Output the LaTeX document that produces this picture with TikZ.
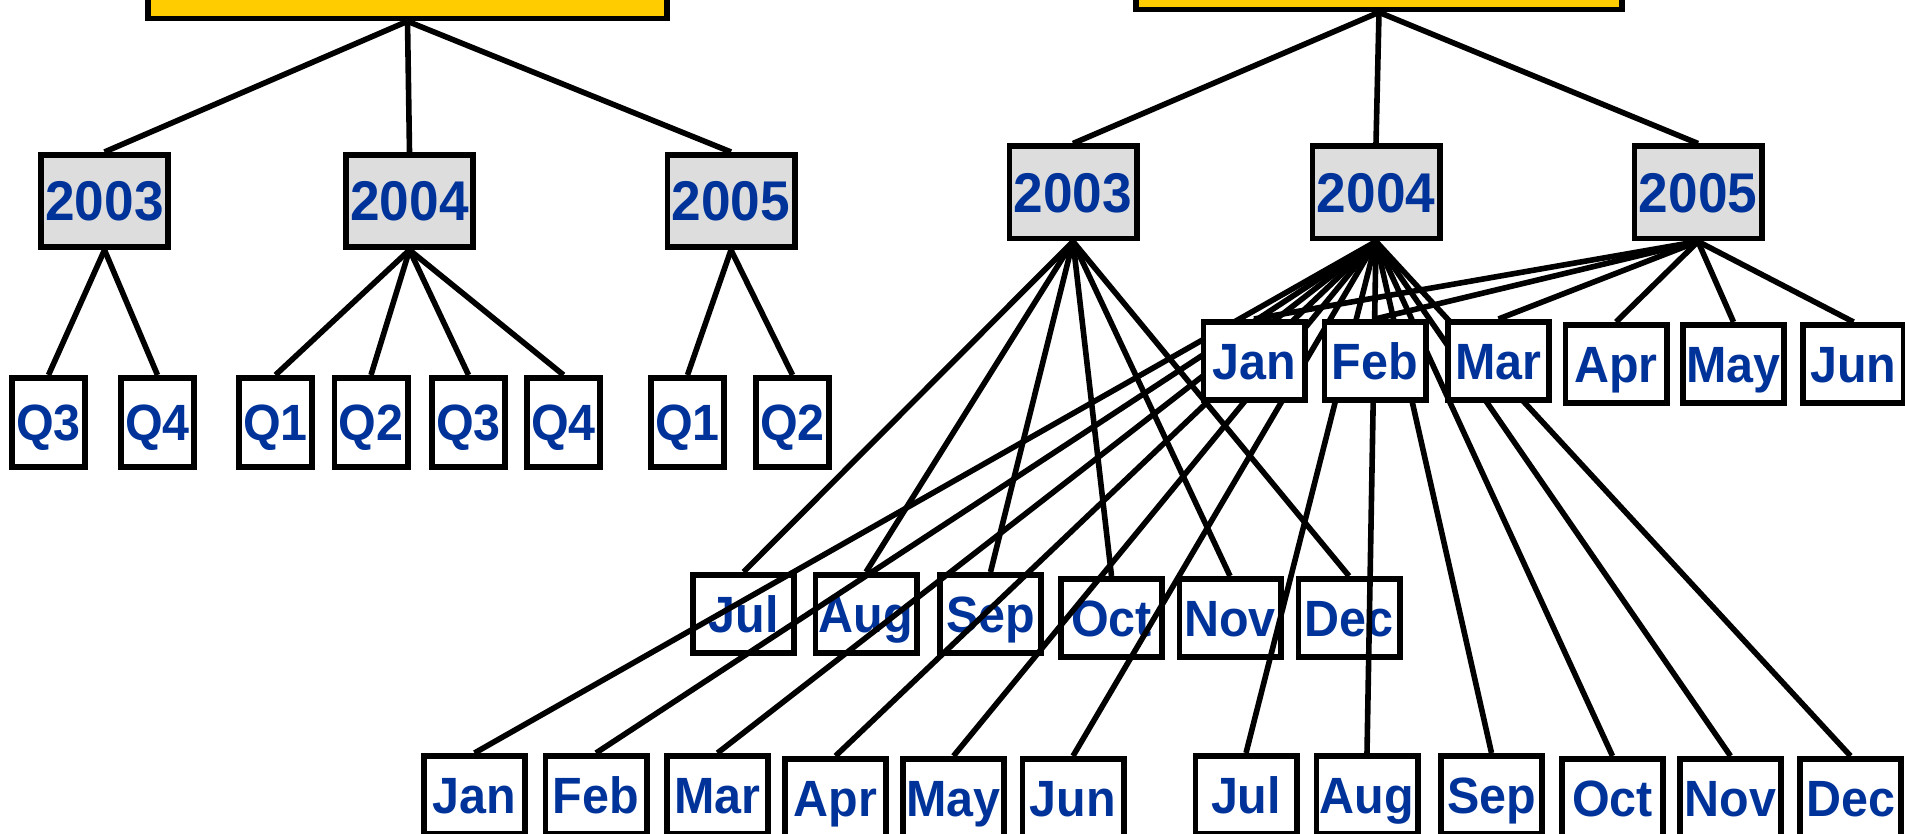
\documentclass[tikz,border=0pt]{standalone}
\usepackage{fontspec}
\newfontfamily\lab{Liberation Sans}[FakeStretch=0.95]
\definecolor{labblue}{HTML}{003399}
\definecolor{yeargray}{HTML}{DDDDDD}
\definecolor{headyellow}{HTML}{FFCC00}
\pgfdeclarelayer{front}
\pgfsetlayers{main,front}
\begin{document}
\begin{tikzpicture}[x=0.5pt,y=-0.5pt,
  box/.style={draw=black,line width=2.8pt,inner sep=0pt,text=labblue,
    font=\lab\bfseries\fontsize{25.5}{29}\selectfont,text height=18.3pt,text depth=0pt},
  year/.style={box,fill=yeargray,minimum width=63.7pt,minimum height=46.2pt,
    font=\lab\bfseries\fontsize{28}{32}\selectfont,text height=20pt},
  qbox/.style={box,fill=white,minimum width=36.7pt,minimum height=44.7pt},
  mbox/.style={box,fill=white,minimum width=50.7pt,minimum height=39.2pt},
  headbox/.style={draw=black,line width=2.8pt,fill=headyellow,minimum width=259.7pt,minimum height=40pt,inner sep=0pt},
  link/.style={draw=black,line width=2.8pt}]
\useasboundingbox[fill=white] (0,0) rectangle (1905,834);

% heads (cut by the top edge)
\node[headbox] (lhead) at (407.5,-21.5) {};
\node[headbox,minimum width=243.2pt] (rhead) at (1379,-30.5) {};

% years
\node[year] (l03) at (104.5,201) {2003};
\node[year] (l04) at (409.5,201) {2004};
\node[year] (l05) at (731,201) {2005};
\node[year] (r03) at (1073,192.5) {2003};
\node[year] (r04) at (1376,192.5) {2004};
\node[year] (r05) at (1698,192.5) {2005};

% quarters
\node[qbox] (qa3) at (48.5,422.5) {Q3};
\node[qbox] (qa4) at (157.5,422.5) {Q4};
\node[qbox] (qb1) at (275.5,422.5) {Q1};
\node[qbox] (qb2) at (371,422.5) {Q2};
\node[qbox] (qb3) at (468.5,422.5) {Q3};
\node[qbox] (qb4) at (563.5,422.5) {Q4};
\node[qbox] (qc1) at (687.5,422.5) {Q1};
\node[qbox] (qc2) at (792.5,422.5) {Q2};

% months of 2003 (middle row)
\node[mbox] (m7) at (743.5,614) {Jul};
\node[mbox] (m8) at (866,614) {Aug};
\node[mbox] (m9) at (990.5,614) {Sep};
\node[mbox] (m10) at (1111.5,618) {Oct};
\node[mbox] (m11) at (1230,618) {Nov};
\node[mbox] (m12) at (1349,618) {Dec};

% months of 2004 (bottom row)
\node[mbox] (b1) at (474.5,795) {Jan};
\node[mbox] (b2) at (596,795) {Feb};
\node[mbox] (b3) at (717.5,795) {Mar};
\node[mbox] (b4) at (835.5,798) {Apr};
\node[mbox] (b5) at (953.5,798) {May};
\node[mbox] (b6) at (1073,798) {Jun};
\node[mbox] (b7) at (1246,795) {Jul};
\node[mbox] (b8) at (1367,795) {Aug};
\node[mbox] (b9) at (1491.5,795) {Sep};
\node[mbox] (b10) at (1612.5,798) {Oct};
\node[mbox] (b11) at (1730.5,798) {Nov};
\node[mbox] (b12) at (1850.5,798) {Dec};

% months of 2005 (upper row, in front of the lines)
\begin{pgfonlayer}{front}
\node[mbox] (u1) at (1254,361) {Jan};
\node[mbox] (u2) at (1375,361) {Feb};
\node[mbox] (u3) at (1498.5,361) {Mar};
\node[mbox] (u4) at (1616,364) {Apr};
\node[mbox] (u5) at (1733.5,364) {May};
\node[mbox] (u6) at (1853.5,364) {Jun};
\end{pgfonlayer}

% connectors
\foreach \a/\b in {lhead/l03,lhead/l04,lhead/l05,rhead/r03,rhead/r04,rhead/r05,
  l03/qa3,l03/qa4,l04/qb1,l04/qb2,l04/qb3,l04/qb4,l05/qc1,l05/qc2,
  r03/m7,r03/m8,r03/m9,r03/m10,r03/m11,r03/m12,
  r05/u1,r05/u2,r05/u3,r05/u4,r05/u5,r05/u6,
  r04/b1,r04/b2,r04/b3,r04/b4,r04/b5,r04/b6,r04/b7,r04/b8,r04/b9,r04/b10,r04/b11,r04/b12}
  \draw[link] (\a.south) -- (\b.north);
\end{tikzpicture}
\end{document}
